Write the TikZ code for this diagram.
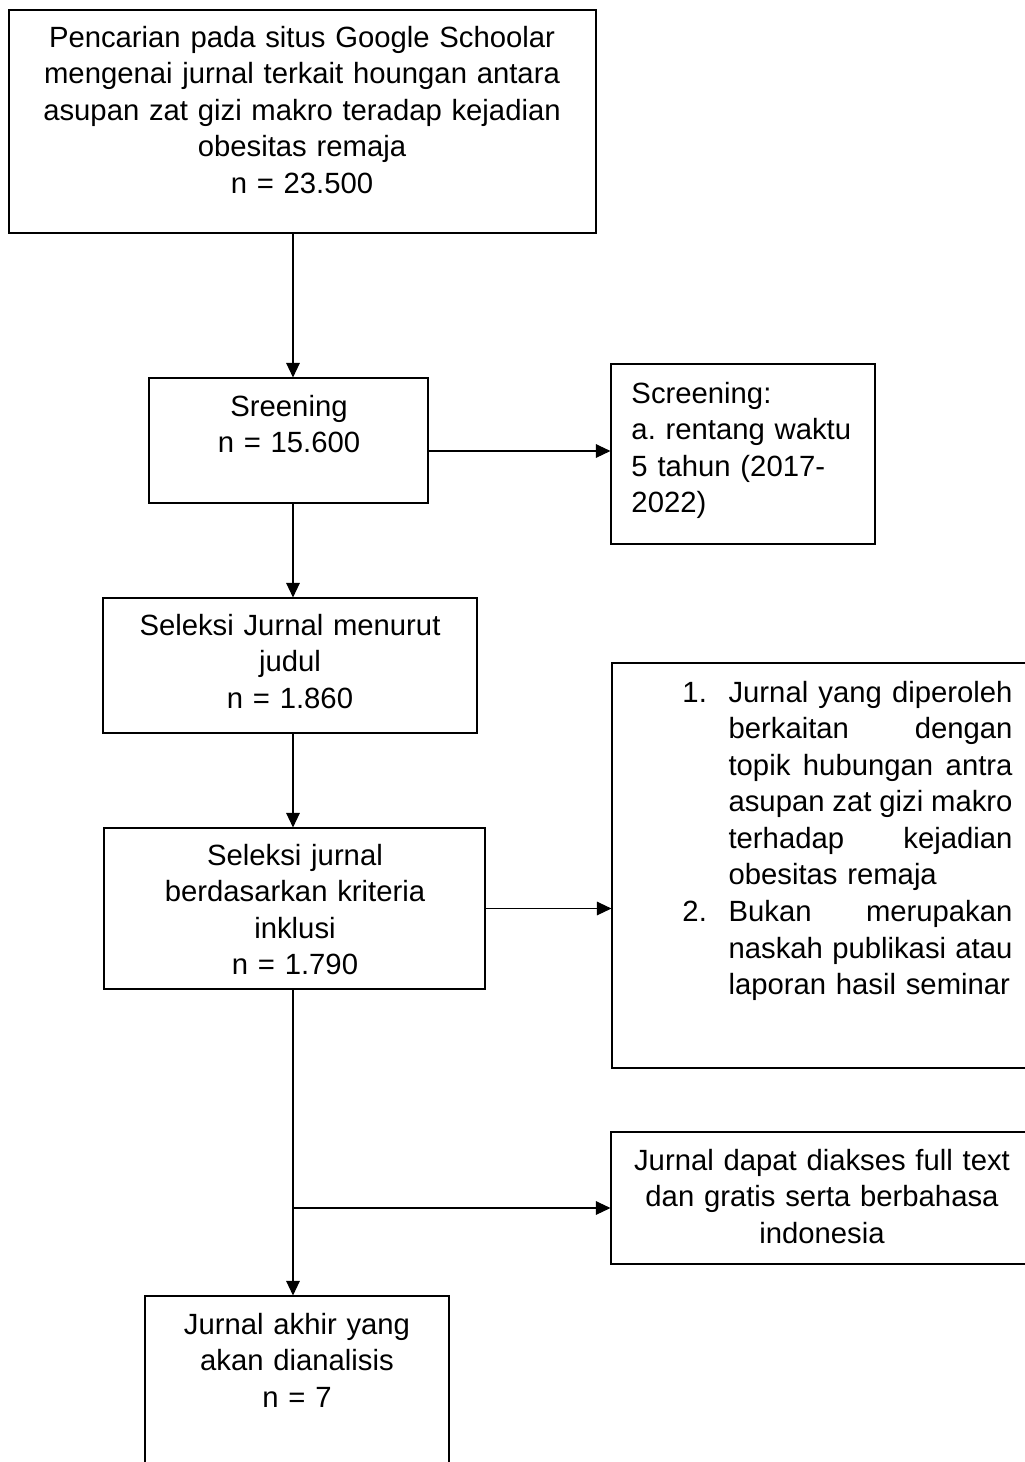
\documentclass[tikz,border=0pt]{standalone}
\usepackage{fontspec}
\setmainfont{Liberation Sans}
\usetikzlibrary{arrows.meta,fit}
\newcommand{\jline}[1]{\hbox to 116.4pt{#1}}
\newcommand{\indentl}{\hspace*{18.9pt}}
\newcommand{\numl}[1]{\makebox[18.9pt][l]{#1}}
\frenchspacing
\begin{document}
\begin{tikzpicture}[x=0.41pt,y=-0.41pt,
  bx/.style={draw, line width=0.45pt, inner sep=0pt},
  txt/.style={inner sep=0pt, font=\fontsize{12}{15}\selectfont, align=center},
  arr/.style={line width=0.45pt, -{Triangle[length=6pt,width=5.6pt]}}]
\useasboundingbox (0,0) rectangle (1025,1462);
\clip (0,0) rectangle (1025,1462);
% boxes
\node[bx, line width=0.9pt, fit={(9,10) (596,233)}] (b1) {};
\node[bx, fit={(149,378) (428,503)}] (b2) {};
\node[bx, fit={(611,364) (875,544)}] (b3) {};
\node[bx, fit={(103,598) (477,733)}] (b4) {};
\node[bx, fit={(104,828) (485,989)}] (b5) {};
\node[bx, fit={(612,663) (1040,1068)}] (b6) {};
\node[bx, fit={(611,1132) (1040,1264)}] (b7) {};
\node[bx, fit={(145,1296) (449,1490)}] (b8) {};
% texts
\node[txt, text width=240pt, anchor=base] (t1) at (302,47)
  {Pencarian pada situs Google Schoolar\\ mengenai jurnal terkait houngan antara\\ asupan zat gizi makro teradap kejadian\\ obesitas remaja\\ n = 23.500};
\node[txt, text width=100pt, anchor=base] (t2) at (289,416) {Sreening\\ n = 15.600};
\node[txt, text width=100pt, align=left, anchor=base west] (t3) at (631,403)
  {Screening:\\ a. rentang waktu\\ 5 tahun (2017-\\ 2022)};
\node[txt, text width=150pt, anchor=base] (t4) at (290,635) {Seleksi Jurnal menurut\\ judul\\ n = 1.860};
\node[txt, text width=150pt, anchor=base] (t5) at (295,865)
  {Seleksi jurnal\\ berdasarkan kriteria\\ inklusi\\ n = 1.790};
\node[txt, text width=140pt, align=left, anchor=base west] (t6) at (682,702)
  {\numl{1.}\jline{Jurnal\hfill yang\hfill diperoleh}\\
   \indentl\jline{berkaitan\hfill dengan}\\
   \indentl\jline{topik\hfill hubungan\hfill antra}\\
   \indentl\jline{asupan\hfill zat\hfill gizi\hfill makro}\\
   \indentl\jline{terhadap\hfill kejadian}\\
   \indentl obesitas remaja\\
   \numl{2.}\jline{Bukan\hfill merupakan}\\
   \indentl\jline{naskah\hfill publikasi\hfill atau}\\
   \indentl laporan hasil seminar};
\node[txt, text width=170pt, anchor=base] (t7) at (822,1170)
  {Jurnal dapat diakses full text\\ dan gratis serta berbahasa\\ indonesia};
\node[txt, text width=120pt, anchor=base] (t8) at (297,1334)
  {Jurnal akhir yang\\ akan dianalisis\\ n = 7};
% helper coordinates
\coordinate (spine) at (293,0);
\coordinate (a2) at (0,451);
\coordinate (a7) at (293,1208);
% connectors
\draw[arr] (b1.south -| spine) -- (b2.north -| spine);
\draw[arr] (b2.east |- a2) -- (b3.west |- a2);
\draw[arr] (b2.south -| spine) -- (b4.north -| spine);
\draw[arr] (b4.south -| spine) -- (b5.north -| spine);
\draw[arr] (b5.east) -- (b5.east -| b6.west);
\draw[arr] (b5.south -| spine) -- (b8.north -| spine);
\draw[arr] (a7) -- (a7 -| b7.west);
\end{tikzpicture}
\end{document}
